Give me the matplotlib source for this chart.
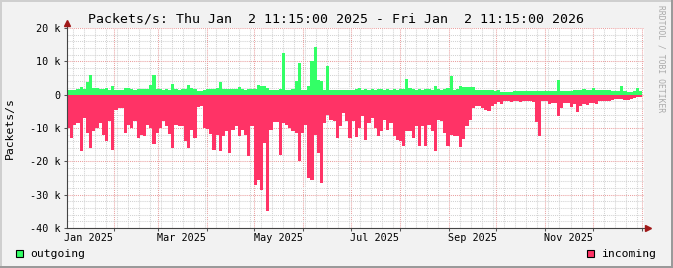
import matplotlib
matplotlib.use("Agg")
import matplotlib.pyplot as plt
import matplotlib.dates as mdates
from matplotlib.ticker import MultipleLocator, NullFormatter, FuncFormatter
from matplotlib.lines import Line2D
from matplotlib.patches import Rectangle
from datetime import datetime, timedelta

# packets/s in thousands, one value per 2-day step starting at the graph start
outgoing = [
    1.5, 1.5, 1.4, 1.7, 2.2, 1.8, 3.7, 5.8, 2.0, 2.0,
    1.8, 1.7, 2.0, 1.5, 2.7, 1.3, 1.3, 1.3, 2.0, 2.0,
    1.8, 1.5, 1.8, 1.8, 1.7, 1.6, 2.8, 6.0, 1.7, 1.7,
    1.5, 1.6, 1.5, 3.2, 1.6, 1.5, 1.7, 1.8, 2.8, 2.0,
    1.6, 1.0, 1.0, 1.5, 1.7, 1.6, 1.8, 2.0, 3.8, 1.8,
    1.6, 1.7, 1.8, 1.6, 2.2, 1.7, 1.5, 1.8, 1.6, 1.8,
    2.8, 2.5, 2.5, 2.0, 1.5, 1.5, 1.5, 1.7, 12.5, 1.5,
    1.5, 1.6, 4.0, 9.5, 1.5, 1.5, 2.7, 10.2, 14.4, 4.5,
    4.2, 1.5, 8.5, 1.5, 1.5, 1.4, 1.5, 1.3, 1.5, 1.4,
    1.5, 1.7, 2.0, 1.5, 1.6, 1.5, 1.7, 1.5, 1.6, 1.8,
    1.5, 1.6, 1.5, 1.7, 1.5, 1.6, 1.8, 4.8, 2.0, 1.6,
    1.5, 1.7, 1.5, 1.8, 1.6, 1.5, 2.7, 1.6, 1.5, 1.7,
    2.0, 5.5, 1.5, 1.6, 2.7, 2.2, 2.3, 2.2, 2.2, 1.3,
    1.3, 1.3, 1.4, 1.3, 1.3, 1.2, 1.3, 0.8, 0.8, 0.8,
    0.9, 1.0, 1.0, 1.1, 1.0, 1.0, 1.2, 1.0, 1.1, 1.0,
    1.0, 1.0, 1.0, 1.1, 1.1, 4.5, 1.2, 1.1, 1.2, 1.2,
    1.3, 1.3, 1.5, 1.7, 1.3, 1.5, 2.0, 1.5, 1.5, 1.5,
    1.5, 1.5, 1.2, 1.0, 1.2, 2.5, 1.2, 0.7, 0.7, 1.0,
    2.0, 1.0,
]
incoming = [
    -10, -13, -9, -8.5, -17, -7, -11.5, -16, -11, -10,
    -8.5, -12, -14, -8, -16.7, -4.5, -4, -4, -11.5, -9,
    -10, -8, -13, -12, -12.5, -9, -10, -14.7, -11.5, -10,
    -8, -9.5, -11.7, -16, -9, -9.5, -9.5, -13.8, -16, -10.5,
    -13, -3.8, -3.5, -10, -10.3, -11.7, -16.5, -12, -17, -12.5,
    -11, -17.5, -10.5, -9.5, -12.5, -10.5, -12, -18.5, -9.5, -27,
    -25.5, -28.5, -14.5, -35, -10.5, -8.3, -8.3, -18, -8.5, -9,
    -10, -11, -11.5, -20, -11.5, -9, -25, -25.5, -12, -17.5,
    -26.5, -8.5, -6, -7.5, -8, -13, -9.5, -5.5, -8, -13,
    -8, -12.7, -10, -6.5, -13.5, -8.5, -7, -10, -12.5, -11,
    -7.5, -10.5, -8.5, -12.5, -13.5, -14, -15.3, -11, -11, -13,
    -9.5, -15.5, -9.5, -15.5, -9, -11, -17, -7.5, -8, -11.5,
    -15.5, -12, -12.5, -12.5, -15.7, -13.3, -9.5, -7.5, -4, -3.5,
    -3.5, -4, -4.5, -5, -3.5, -2.8, -2.3, -2.8, -2, -2,
    -2.2, -2, -2, -2.3, -2, -2, -2, -2.2, -8.3, -12.5,
    -2, -2, -2.8, -2.5, -2.5, -6.3, -4, -2.5, -2.5, -3.8,
    -2.7, -5.3, -3.5, -2.8, -3, -2.5, -2.5, -2.7, -2, -2,
    -2, -2, -1.5, -1.3, -1.3, -1.2, -1.5, -1.7, -1.4, -1.1,
    -0.8, -0.8,
]
month_labels = ["Jan 2025", "Mar 2025", "May 2025", "Jul 2025", "Sep 2025", "Nov 2025"]
label_months = [(2025, 1), (2025, 3), (2025, 5), (2025, 7), (2025, 9), (2025, 11)]
y_ticks = [-40, -30, -20, -10, 0, 10, 20]

start = datetime(2025, 1, 2, 11, 15)
end = datetime(2026, 1, 2, 11, 15)
title = "Packets/s: Thu Jan  2 11:15:00 2025 - Fri Jan  2 11:15:00 2026"

GREEN = "#33ff66"
RED = "#ff3366"
W, H = 673, 268

plt.rcParams["font.family"] = "DejaVu Sans Mono"


def fx(px):
    return px / W


def fy(py):
    return 1 - py / H


fig = plt.figure(figsize=(W / 100, H / 100), dpi=100, facecolor="#f2f2f2")
ax = fig.add_axes([fx(67), fy(228), 577 / W, 200 / H])
ax.set_facecolor("white")

edges = [mdates.date2num(start + timedelta(days=2 * i)) for i in range(len(incoming) + 1)]
ax.stairs(outgoing, edges, fill=True, color=GREEN, baseline=0, linewidth=0)
ax.stairs(incoming, edges, fill=True, color=RED, baseline=0, linewidth=0)

ax.set_xlim(mdates.date2num(start), mdates.date2num(end))
ax.set_ylim(-40, 20)

# grid: weeks / months, 2k / 10k
ax.xaxis.set_major_locator(mdates.MonthLocator())
ax.xaxis.set_minor_locator(mdates.WeekdayLocator(byweekday=mdates.MO))
ax.xaxis.set_major_formatter(NullFormatter())
ax.yaxis.set_major_locator(MultipleLocator(10))
ax.yaxis.set_minor_locator(MultipleLocator(2))
ax.yaxis.set_major_formatter(FuncFormatter(lambda v, p: "0" if v == 0 else f"{int(v)} k"))
ax.set_yticks(y_ticks)
ax.set_axisbelow(True)
ax.grid(which="minor", color="#d2d2d2", linestyle=(0, (1, 1)), linewidth=0.75)
ax.grid(which="major", color="#eaa0a0", linestyle=(0, (1, 1)), linewidth=0.75)
ax.tick_params(axis="x", which="major", length=2.5, width=0.75, color="#555555")
ax.tick_params(axis="x", which="minor", length=0)
ax.tick_params(axis="y", which="major", length=2.5, width=0.75, color="#555555",
               pad=2, labelsize=7.3)
ax.tick_params(axis="y", which="minor", length=0)
for s in ax.spines.values():
    s.set_visible(False)

for (yy, mm), lab in zip(label_months, month_labels):
    ax.text(mdates.date2num(datetime(yy, mm, 16)), -0.05, lab, transform=ax.get_xaxis_transform(),
            ha="center", va="center", fontsize=7.3)

# axis lines with arrows
axis_col = "#444444"
arrow_col = "#a01818"
fig.add_artist(Line2D([fx(67), fx(67)], [fy(228), fy(24)], color=axis_col, lw=0.8))
fig.add_artist(Line2D([fx(67), fx(645)], [fy(228), fy(228)], color=axis_col, lw=0.8))
fig.add_artist(Line2D([fx(67)], [fy(22.5)], marker="^", markersize=4.5, color=arrow_col, lw=0))
fig.add_artist(Line2D([fx(647.5)], [fy(228)], marker=">", markersize=4.5, color=arrow_col, lw=0))

# texts
fig.text(0.5, fy(19), title, ha="center", va="center", fontsize=9.5)
fig.text(fx(10), fy(128), "Packets/s", rotation=90, ha="center", va="center", fontsize=8.2)
fig.text(fx(661), fy(5), "RRDTOOL / TOBI OETIKER", rotation=270, ha="center", va="top",
         fontsize=5.8, color="#aaaaaa")

# legend
fig.add_artist(Rectangle((fx(16), fy(257)), 7 / W, 7 / H, facecolor=GREEN, edgecolor="black", lw=0.8))
fig.text(fx(30), fy(254), "outgoing", ha="left", va="center", fontsize=8.2)
fig.add_artist(Rectangle((fx(587), fy(257)), 7 / W, 7 / H, facecolor=RED, edgecolor="black", lw=0.8))
fig.text(fx(601), fy(254), "incoming", ha="left", va="center", fontsize=8.2)

# 3d-ish frame of the image
fig.add_artist(Rectangle((0, 1 - 2 / H), 1, 2 / H, facecolor="#cfcfcf", lw=0))
fig.add_artist(Rectangle((0, 0), 2 / W, 1, facecolor="#cfcfcf", lw=0))
fig.add_artist(Rectangle((1 - 2 / W, 0), 2 / W, 1, facecolor="#9a9a9a", lw=0))
fig.add_artist(Rectangle((0, 0), 1, 2 / H, facecolor="#9a9a9a", lw=0))

fig.savefig("out.png", dpi=100, facecolor=fig.get_facecolor())
